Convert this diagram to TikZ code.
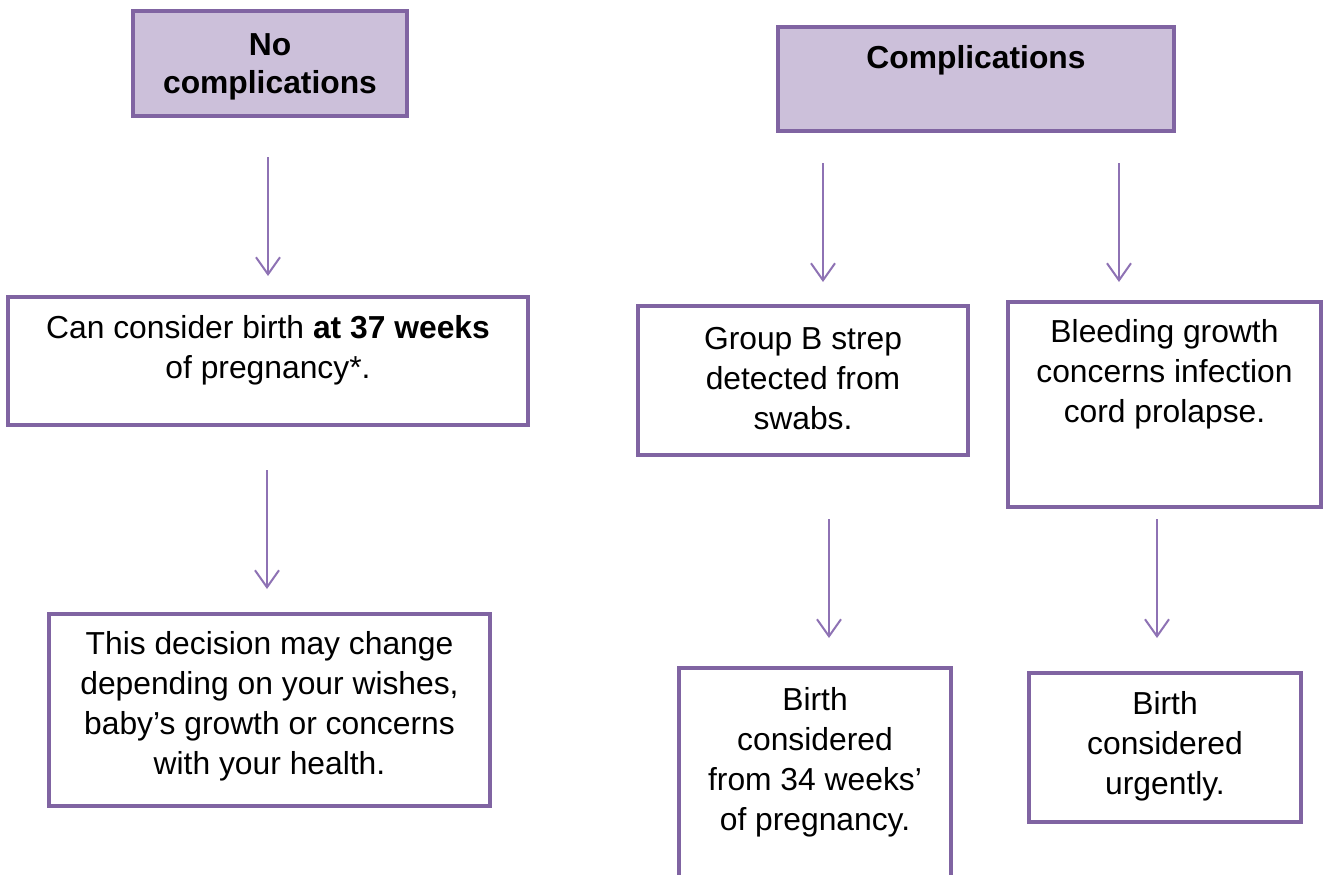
\documentclass[tikz,border=0pt]{standalone}
\usepackage{fontspec}
\setmainfont{Liberation Sans}
\usetikzlibrary{arrows.meta}
\definecolor{pborder}{HTML}{8064A2}
\definecolor{pfill}{HTML}{CCC0DA}
\definecolor{parrow}{HTML}{8E72B4}
\tikzset{
  box/.style={draw=pborder, line width=4pt, inner sep=0pt},
  headbox/.style={box, fill=pfill},
  txt/.style={align=center, font=\fontsize{31.8}{40}\selectfont, inner sep=0pt},
  flowarrow/.style={draw=parrow, line width=2pt, -{Straight Barb[length=17pt,width=24pt,line width=2pt]}}
}
\begin{document}
\begin{tikzpicture}[x=1pt,y=-1pt]
\clip (0,0) rectangle (1323,875);
\fill[white] (0,0) rectangle (1323,875);
% boxes
\node[headbox, minimum width=274pt, minimum height=105pt] (nc) at (270,63.5) {};
\node[headbox, minimum width=396pt, minimum height=104pt] (c) at (976,79) {};
\node[box, minimum width=520pt, minimum height=128pt] (b37) at (268,361) {};
\node[box, minimum width=441pt, minimum height=192pt] (dec) at (269.5,710) {};
\node[box, minimum width=330pt, minimum height=149pt] (gbs) at (803,380.5) {};
\node[box, minimum width=313pt, minimum height=205pt] (bleed) at (1164.5,404.5) {};
\node[box, minimum width=272pt, minimum height=240pt] (b34) at (815,788) {};
\node[box, minimum width=272pt, minimum height=149pt] (urg) at (1165,747.5) {};
% texts
\node[txt, font=\fontsize{31.8}{38}\selectfont\bfseries] (tnc) at (270,67) {No\\complications};
\node[txt, font=\fontsize{31.8}{38}\selectfont\bfseries] (tc) at (976,60) {Complications};
\node[txt] (t37) at (268,350) {Can consider birth \textbf{at 37 weeks}\\of pregnancy*.};
\node[txt] (tdec) at (269.5,706) {This decision may change\\depending on your wishes,\\baby’s growth or concerns\\with your health.};
\node[txt] (tgbs) at (803,379) {Group B strep\\detected from\\swabs.};
\node[txt] (tbleed) at (1164.5,374) {Bleeding growth\\concerns infection\\cord prolapse.};
\node[txt] (t34) at (815,762) {Birth\\considered\\from 34 weeks’\\of pregnancy.};
\node[txt] (turg) at (1165,746) {Birth\\considered\\urgently.};
% arrow endpoints
\coordinate (a1s) at (268,157); \coordinate (a1e) at (268,276);
\coordinate (a2s) at (267,470); \coordinate (a2e) at (267,589);
\coordinate (a3s) at (823,163); \coordinate (a3e) at (823,282);
\coordinate (a4s) at (1119,163); \coordinate (a4e) at (1119,282);
\coordinate (a5s) at (829,519); \coordinate (a5e) at (829,638);
\coordinate (a6s) at (1157,519); \coordinate (a6e) at (1157,638);
\draw[flowarrow] (a1s) -- (a1e);
\draw[flowarrow] (a2s) -- (a2e);
\draw[flowarrow] (a3s) -- (a3e);
\draw[flowarrow] (a4s) -- (a4e);
\draw[flowarrow] (a5s) -- (a5e);
\draw[flowarrow] (a6s) -- (a6e);
\end{tikzpicture}
\end{document}
